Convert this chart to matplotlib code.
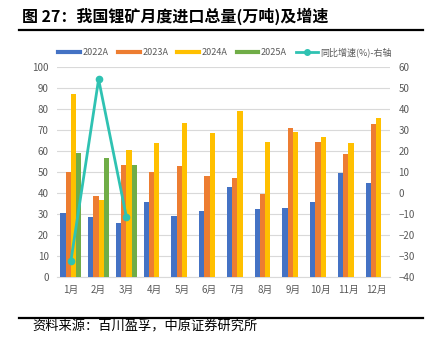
import numpy as np
import matplotlib.pyplot as plt
from matplotlib.lines import Line2D

plt.rcParams['font.family'] = ['Noto Sans CJK SC', 'DejaVu Sans']

months = ['1月', '2月', '3月', '4月', '5月', '6月', '7月', '8月', '9月', '10月', '11月', '12月']
y2022 = [30.5, 28.2, 25.6, 35.4, 28.8, 31.5, 42.9, 32.4, 32.9, 35.8, 49.5, 44.5]
y2023 = [49.8, 38.6, 53.2, 49.7, 52.5, 47.8, 46.8, 39.2, 70.9, 63.9, 58.2, 72.5]
y2024 = [87.2, 36.5, 60.1, 63.8, 73.4, 68.4, 79.1, 63.9, 69.0, 66.5, 63.8, 75.8]
y2025 = [58.7, 56.5, 53.2]
growth = [-32.6, 54.0, -11.5]  # 同比增速(%), 右轴
series_names = ['2022A', '2023A', '2024A', '2025A', '同比增速(%)-右轴']

c_blue = '#4472C4'
c_orange = '#ED7D31'
c_yellow = '#FFC000'
c_green = '#70AD47'
c_line = '#2FC2B2'
c_tick = '#595959'

fig = plt.figure(figsize=(4.33, 3.38), dpi=100)
ax = fig.add_axes([0.1316, 0.1814, 0.7691, 0.6213])

x = np.arange(len(months))
w = 0.187
ax.bar(x - 1.5 * w, y2022, w, color=c_blue, zorder=3)
ax.bar(x - 0.5 * w, y2023, w, color=c_orange, zorder=3)
ax.bar(x + 0.5 * w, y2024, w, color=c_yellow, zorder=3)
ax.bar(x[:len(y2025)] + 1.5 * w, y2025, w, color=c_green, zorder=3)

ax.set_xlim(-0.5, len(months) - 0.5)
ax.set_ylim(0, 100)
ax.set_yticks(range(0, 101, 10))
ax.set_xticks(x)
ax.set_xticklabels(months)
ax.grid(axis='y', color='#D9D9D9', linewidth=0.8, zorder=0)
for s in ['top', 'right', 'left']:
    ax.spines[s].set_visible(False)
ax.spines['bottom'].set_color('#D9D9D9')
ax.tick_params(axis='both', length=0, labelsize=7, colors=c_tick, pad=6)

ax2 = ax.twinx()
ax2.set_ylim(-40, 60)
ax2.set_yticks(range(-40, 61, 10))
ax2.plot(x[:len(growth)], growth, color=c_line, linewidth=2, marker='o',
         markersize=4.5, zorder=5)
for s in ax2.spines.values():
    s.set_visible(False)
ax2.tick_params(axis='y', length=0, labelsize=7, colors=c_tick, pad=6)

# 标题与分隔线
fig.text(0.05, 0.952, '图 27：我国锂矿月度进口总量(万吨)及增速', fontsize=11.5,
         fontweight='bold', ha='left', va='center')
fig.add_artist(Line2D([0.045, 0.977], [0.91, 0.91], color='black', linewidth=1.6))
fig.add_artist(Line2D([0.045, 0.977], [0.06, 0.06], color='black', linewidth=1.6))
fig.text(0.075, 0.033, '资料来源：百川盈孚，中原证券研究所', fontsize=9.5,
         ha='left', va='center')

handles = [
    Line2D([], [], color=c_blue, linewidth=3),
    Line2D([], [], color=c_orange, linewidth=3),
    Line2D([], [], color=c_yellow, linewidth=3),
    Line2D([], [], color=c_green, linewidth=3),
    Line2D([], [], color=c_line, linewidth=2, marker='o', markersize=4),
]
fig.legend(handles, series_names, loc='center', bbox_to_anchor=(0.52, 0.845), ncol=5,
           frameon=False, fontsize=6.5, handlelength=2.4, columnspacing=1.0,
           handletextpad=0.3, labelcolor=c_tick)

fig.savefig('out.png', dpi=100)
